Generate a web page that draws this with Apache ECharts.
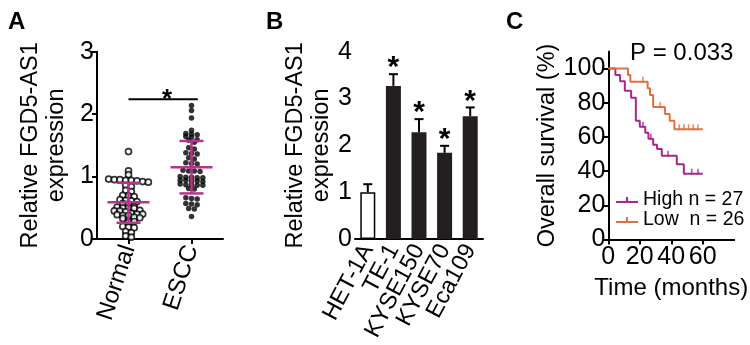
<!DOCTYPE html>
<html>
<head>
<meta charset="utf-8">
<script src="https://cdn.jsdelivr.net/npm/echarts@6/dist/echarts.min.js"></script>
<style>
  html, body { margin: 0; padding: 0; background: #fff; }
  #main { width: 750px; height: 345px; }
</style>
</head>
<body>
<div id="main"></div>
<script>
// ---- panel A: FGD5-AS1 in tissue (dot plot, mean +/- SD)
var groupsA = ["Normal", "ESCC"];
var groupPosA = [0, 1];
var normalVals = [1.40, 1.09, 1.03, 0.96, 0.95, 0.95, 0.94, 0.94, 0.93, 0.92, 0.91,
  0.86, 0.84, 0.78, 0.76, 0.70, 0.69, 0.68, 0.63, 0.62, 0.61, 0.60, 0.57, 0.56,
  0.52, 0.51, 0.50, 0.50, 0.49, 0.46, 0.45, 0.45, 0.44, 0.41, 0.40, 0.40, 0.39,
  0.38, 0.38, 0.35, 0.34, 0.33, 0.29, 0.28, 0.27, 0.20, 0.19, 0.18, 0.12, 0.10,
  0.05, 0.03];
var esccVals = [2.14, 2.06, 1.94, 1.74, 1.69, 1.68, 1.67, 1.64, 1.63, 1.59, 1.58,
  1.55, 1.46, 1.44, 1.38, 1.37, 1.36, 1.30, 1.28, 1.22, 1.21, 1.20, 1.10, 1.09,
  1.09, 1.08, 1.00, 0.99, 0.99, 0.98, 0.98, 0.94, 0.94, 0.93, 0.93, 0.92, 0.88,
  0.87, 0.87, 0.86, 0.86, 0.81, 0.80, 0.66, 0.65, 0.64, 0.57, 0.56, 0.55, 0.49,
  0.48, 0.36];
var meanA = [0.59, 1.15];
var sdLowA = [0.26, 0.73];
var sdHighA = [0.90, 1.57];
var sigA = [0, 1.1, 2.24]; // from, to, height of the bracket

// ---- panel B: cell lines
var cellLines = ["HET-1A", "TE-1", "KYSE150", "KYSE70", "Eca109"];
var barMeans = [1.0, 3.27, 2.28, 1.84, 2.62];
var barErr = [0.17, 0.25, 0.28, 0.15, 0.19];
var barStars = ["", "*", "*", "*", "*"];

// ---- panel C: Kaplan-Meier (month, % survival)
var highCurve = [[0, 100], [4.5, 96.3], [7.5, 92.6], [10.5, 87], [14.5, 83], [17.5, 69.5],
  [20, 66], [23.5, 62.5], [25.5, 59], [28.5, 55.5], [31, 53], [34, 49], [43.5, 44],
  [48, 38.5], [60, 38.5]];
var lowCurve = [[0, 100], [12.5, 96.2], [14, 92.3], [25, 88.5], [26.5, 84.6], [28.5, 77.5],
  [36, 73.5], [39, 69.5], [42, 64.5], [60, 64.5]];
var highCensor = [[22, 66], [27, 59], [38, 49], [53, 38.5], [57, 38.5]];
var lowCensor = [[22, 92.3], [33, 77.5], [45, 64.5], [48, 64.5], [51, 64.5], [54, 64.5], [57, 64.5]];
var kmYTicks = [0, 20, 40, 60, 80, 100];
var kmXTicks = [0, 20, 40, 60];

var FONT = "Liberation Sans, Arial, sans-serif";
var PINK = "#b8338a";
var HIGH_C = "#a8268e";
var LOW_C = "#e2703c";

// lay points out in rows like a GraphPad scatter plot
function swarm(vals, pos) {
  var sorted = vals.slice().sort(function (a, b) { return b - a; });
  var rows = [];
  sorted.forEach(function (v) {
    var row = rows[rows.length - 1];
    if (row && row[0] - v < 0.05) row.push(v); else rows.push([v]);
  });
  var pts = [];
  rows.forEach(function (row) {
    row.forEach(function (v, i) {
      pts.push([pos + (i - (row.length - 1) / 2) * 0.09, v]);
    });
  });
  return pts;
}

var axisLine = { onZero: false, lineStyle: { color: "#000", width: 2 } };
var axisTick = { length: 5, lineStyle: { color: "#000", width: 2 } };
function lab(extra) {
  var o = { color: "#000", fontSize: 25, fontFamily: FONT, margin: 3 };
  for (var k in extra) o[k] = extra[k];
  return o;
}
var nameStyle = { color: "#000", fontSize: 23.5, fontFamily: FONT, lineHeight: 26 };
var letterStyle = { fontSize: 24, fontWeight: "bold", fontFamily: FONT, color: "#000" };

var chart = echarts.init(document.getElementById("main"));

var option = {
  animation: false,
  backgroundColor: "#fff",
  title: [
    { text: "A", left: 8, top: 10, padding: 0, textStyle: letterStyle },
    { text: "B", left: 266, top: 10, padding: 0, textStyle: letterStyle },
    { text: "C", left: 506, top: 10, padding: 0, textStyle: letterStyle },
    { text: "P = 0.033", left: 630, top: 41, padding: 0, textStyle: { fontSize: 24, fontWeight: "normal", fontFamily: FONT, color: "#000" } }
  ],
  legend: {
    left: 616, top: 190, orient: "vertical", padding: 0, itemGap: 0,
    itemWidth: 22, itemHeight: 8,
    textStyle: { fontSize: 19.5, fontFamily: FONT, color: "#000" },
    data: [
      { name: "High n = 27", icon: "path://M0,5h22v2H0z M10,1h2v6h-2z" },
      { name: "Low  n = 26", icon: "path://M0,5h22v2H0z M10,1h2v6h-2z" }
    ]
  },
  grid: [
    { left: 97, top: 51.7, width: 126, height: 187.3, outerBoundsMode: "none" },
    { left: 355, top: 51.7, width: 128, height: 187.3, outerBoundsMode: "none" },
    { left: 608.3, top: 51.5, width: 125.9, height: 188, outerBoundsMode: "none" }
  ],
  xAxis: [
    {
      gridIndex: 0, type: "value", min: -0.5, max: 1.5,
      axisLine: axisLine,
      axisTick: { length: 5, lineStyle: { color: "#000", width: 2 }, customValues: groupPosA },
      axisLabel: lab({
        rotate: 72, margin: 7, fontSize: 24, customValues: groupPosA,
        formatter: function (v) { return groupsA[Math.round(v)]; }
      }),
      splitLine: { show: false }
    },
    {
      gridIndex: 1, type: "category", data: cellLines, boundaryGap: true,
      axisLine: axisLine, axisTick: { alignWithLabel: true, length: 5, lineStyle: { color: "#000", width: 2 } },
      axisLabel: lab({ rotate: 62, margin: 7, interval: 0, fontSize: 23.5 })
    },
    {
      gridIndex: 2, type: "value", min: 0, max: 80,
      axisLine: axisLine,
      axisTick: { length: 5, lineStyle: { color: "#000", width: 2 }, customValues: kmXTicks },
      axisLabel: lab({ margin: 5, customValues: kmXTicks }),
      splitLine: { show: false },
      name: "Time (months)", nameLocation: "middle", nameGap: 37, nameMoveOverlap: false,
      nameTextStyle: { color: "#000", fontSize: 24, fontFamily: FONT }
    }
  ],
  yAxis: [
    {
      gridIndex: 0, type: "value", min: 0, max: 3, interval: 1,
      axisLine: axisLine, axisTick: axisTick, axisLabel: lab({}), splitLine: { show: false },
      name: "Relative FGD5-AS1\nexpression", nameLocation: "middle", nameRotate: 90, nameGap: 27,
      nameMoveOverlap: false, nameTextStyle: nameStyle
    },
    {
      gridIndex: 1, type: "value", min: 0, max: 4, interval: 1,
      axisLine: axisLine, axisTick: axisTick, axisLabel: lab({}), splitLine: { show: false },
      name: "Relative FGD5-AS1\nexpression", nameLocation: "middle", nameRotate: 90, nameGap: 20,
      nameMoveOverlap: false, nameTextStyle: nameStyle
    },
    {
      gridIndex: 2, type: "value", min: 0, max: 110,
      axisLine: axisLine,
      axisTick: { length: 5, lineStyle: { color: "#000", width: 2 }, customValues: kmYTicks },
      axisLabel: lab({ customValues: kmYTicks }), splitLine: { show: false },
      name: "Overall survival (%)", nameLocation: "middle", nameRotate: 90, nameGap: 49,
      nameMoveOverlap: false, nameTextStyle: { color: "#000", fontSize: 23.5, fontFamily: FONT }
    }
  ],
  series: [
    {
      name: "Normal", type: "scatter", xAxisIndex: 0, yAxisIndex: 0,
      data: swarm(normalVals, groupPosA[0]), symbol: "circle", symbolSize: 6,
      itemStyle: { color: "#fff", borderColor: "#000", borderWidth: 1.7 }, z: 2
    },
    {
      name: "ESCC", type: "scatter", xAxisIndex: 0, yAxisIndex: 0,
      data: swarm(esccVals, groupPosA[1]), symbol: "circle", symbolSize: 5.5,
      itemStyle: { color: "#000" }, z: 2
    },
    {
      // mean and SD bars
      type: "custom", xAxisIndex: 0, yAxisIndex: 0, z: 3,
      data: groupsA.map(function (g, i) { return [groupPosA[i], meanA[i], sdLowA[i], sdHighA[i]]; }),
      renderItem: function (params, api) {
        var x = api.value(0);
        var c = api.coord([x, api.value(1)]);
        var lo = api.coord([x, api.value(2)]);
        var hi = api.coord([x, api.value(3)]);
        var st = { stroke: PINK, lineWidth: 2.5 };
        return {
          type: "group", children: [
            { type: "line", shape: { x1: c[0] - 21, y1: c[1], x2: c[0] + 21, y2: c[1] }, style: st },
            { type: "line", shape: { x1: c[0], y1: hi[1], x2: c[0], y2: lo[1] }, style: st },
            { type: "line", shape: { x1: c[0] - 12, y1: hi[1], x2: c[0] + 12, y2: hi[1] }, style: st },
            { type: "line", shape: { x1: c[0] - 12, y1: lo[1], x2: c[0] + 12, y2: lo[1] }, style: st }
          ]
        };
      }
    },
    {
      // significance bracket
      type: "custom", xAxisIndex: 0, yAxisIndex: 0, z: 3,
      data: [sigA],
      renderItem: function (params, api) {
        var a = api.coord([api.value(0), api.value(2)]);
        var b = api.coord([api.value(1), api.value(2)]);
        return {
          type: "group", children: [
            { type: "line", shape: { x1: a[0], y1: a[1], x2: b[0], y2: b[1] }, style: { stroke: "#000", lineWidth: 2 } },
            { type: "text", x: (a[0] + b[0]) / 2 + 4, y: a[1] + 1, style: { text: "*", fontSize: 26, fontWeight: "bold", fontFamily: FONT, fill: "#000", align: "center", verticalAlign: "middle" } }
          ]
        };
      }
    },
    {
      type: "bar", xAxisIndex: 1, yAxisIndex: 1, barWidth: 15,
      data: barMeans.map(function (v, i) {
        return i === 0
          ? { value: v, itemStyle: { color: "#fff", borderColor: "#000", borderWidth: 1.5 } }
          : { value: v, itemStyle: { color: "#231f20" } };
      })
    },
    {
      // error bars and stars
      type: "custom", xAxisIndex: 1, yAxisIndex: 1, z: 3,
      data: barMeans.map(function (v, i) { return [i, v, barErr[i]]; }),
      renderItem: function (params, api) {
        var i = api.value(0);
        var base = api.coord([i, api.value(1)]);
        var top = api.coord([i, api.value(1) + api.value(2)]);
        var st = { stroke: "#000", lineWidth: 2 };
        return {
          type: "group", children: [
            { type: "line", shape: { x1: base[0], y1: base[1], x2: top[0], y2: top[1] }, style: st },
            { type: "line", shape: { x1: top[0] - 4.5, y1: top[1], x2: top[0] + 4.5, y2: top[1] }, style: st },
            { type: "text", x: top[0], y: top[1] - 6, style: { text: barStars[params.dataIndex], fontSize: 30, fontWeight: "bold", fontFamily: FONT, fill: "#000", align: "center", verticalAlign: "middle" } }
          ]
        };
      }
    },
    {
      name: "High n = 27", type: "line", xAxisIndex: 2, yAxisIndex: 2, step: "end",
      data: highCurve, symbol: "none", color: HIGH_C, lineStyle: { color: HIGH_C, width: 2 }
    },
    {
      name: "Low  n = 26", type: "line", xAxisIndex: 2, yAxisIndex: 2, step: "end",
      data: lowCurve, symbol: "none", color: LOW_C, lineStyle: { color: LOW_C, width: 2 }
    },
    {
      type: "scatter", xAxisIndex: 2, yAxisIndex: 2, data: highCensor,
      symbol: "rect", symbolSize: [1.6, 6], symbolOffset: [0, -2], itemStyle: { color: HIGH_C }
    },
    {
      type: "scatter", xAxisIndex: 2, yAxisIndex: 2, data: lowCensor,
      symbol: "rect", symbolSize: [1.6, 6], symbolOffset: [0, -2], itemStyle: { color: LOW_C }
    }
  ]
};

chart.setOption(option);
window.addEventListener("resize", function () { chart.resize(); });
</script>
</body>
</html>
